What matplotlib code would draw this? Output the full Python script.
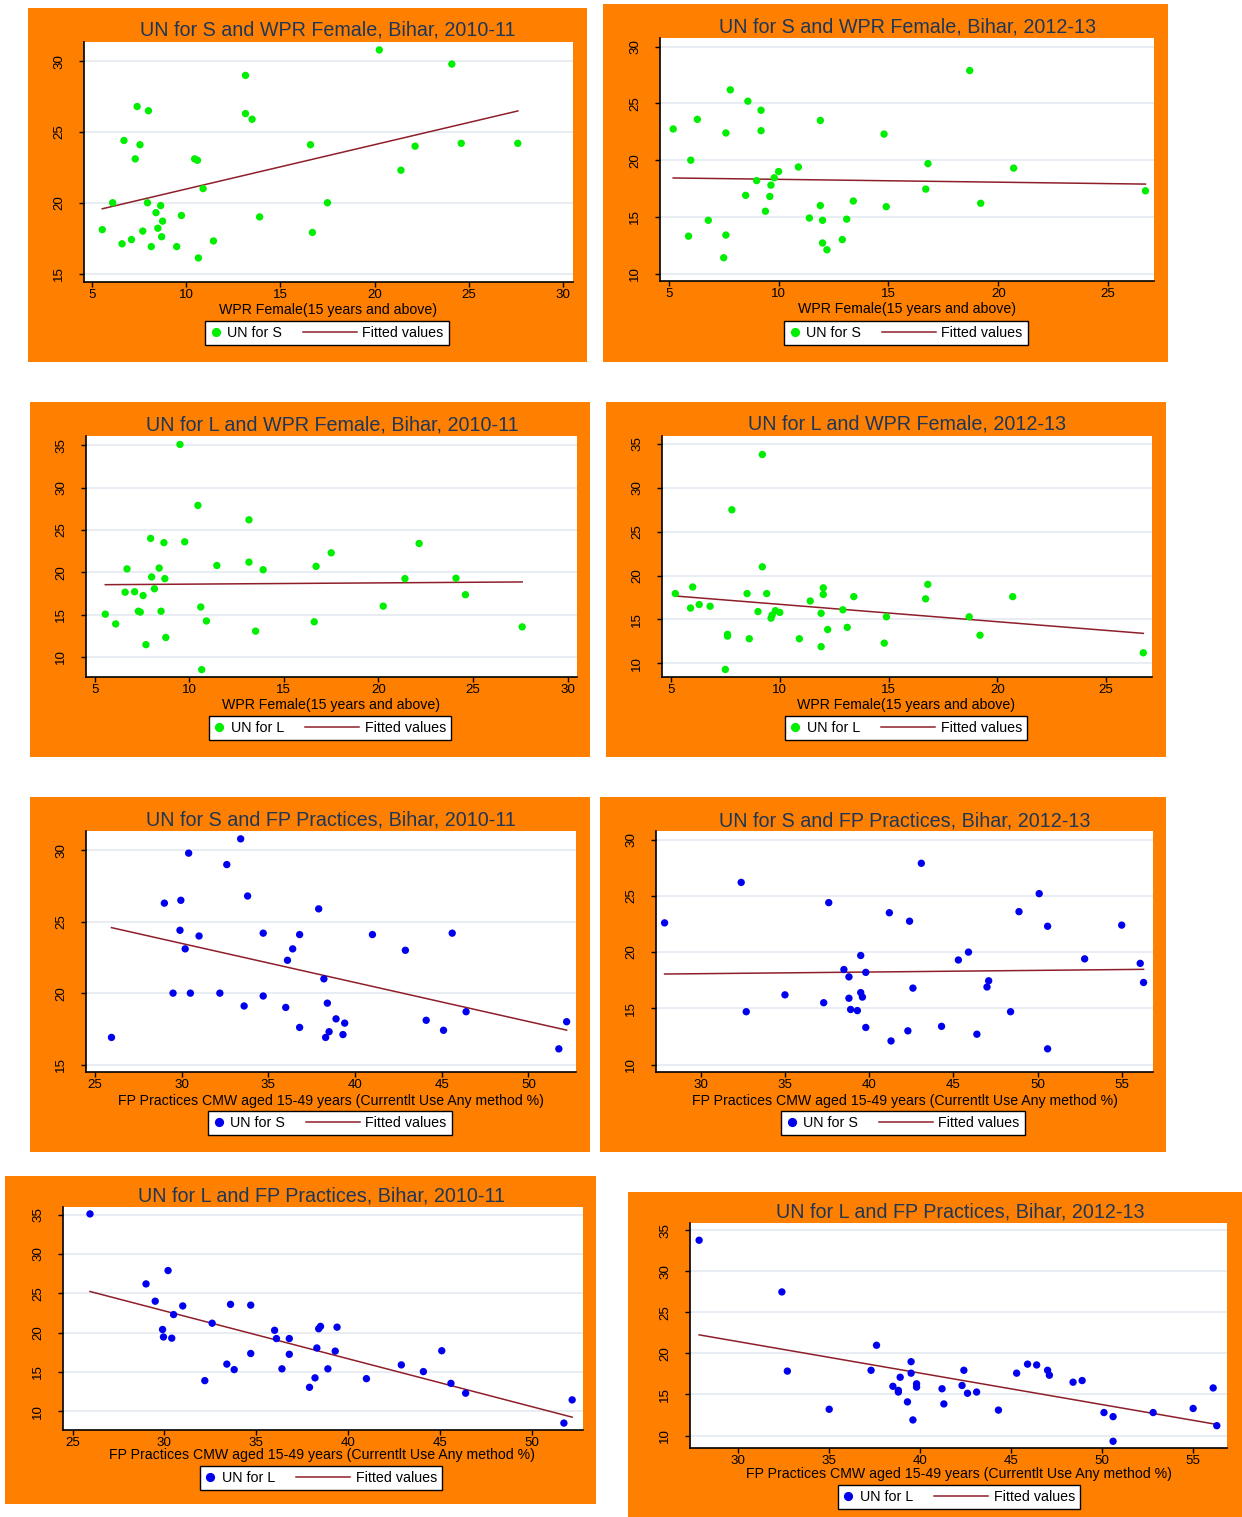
import numpy as np
import matplotlib
matplotlib.use('Agg')
import matplotlib.pyplot as plt
from matplotlib.patches import Rectangle
from matplotlib.lines import Line2D
from matplotlib.legend_handler import HandlerLine2D

plt.rcParams['font.family'] = ['Liberation Sans', 'DejaVu Sans']

W, H = 1242, 1517
ORANGE = '#ff8000'
NAVY = '#1f3658'
FIT = '#8e1f2a'
GRID = '#e3eaf0'
GREEN = '#00ee00'
BLUE = '#0000ee'

# district values, Bihar 2010-11 (same district order in every list)
wpr_f_1011 = [20.25, 24.1, 13.15, 7.4, 8.0, 13.15, 13.5, 6.7, 7.55, 16.6, 22.15, 24.6, 27.6,
              7.3, 10.45, 10.6, 21.4, 10.9, 6.1, 7.95, 17.5, 8.65, 8.4, 9.75, 13.9, 8.75,
              5.55, 8.5, 7.7, 16.7, 8.7, 6.6, 7.1, 11.45, 8.15, 9.5, 10.65]
fp_1011 = [33.4, 30.4, 32.6, 33.8, 29.95, 29.0, 37.9, 29.9, 36.8, 41.0, 31.0, 34.7, 45.6,
           36.4, 30.2, 42.9, 36.1, 38.2, 32.2, 29.5, 30.5, 34.7, 38.4, 33.6, 36.0, 46.4,
           44.1, 38.9, 52.2, 39.4, 36.8, 39.3, 45.1, 38.5, 38.3, 25.95, 51.75]
un_s_1011 = [30.8, 29.8, 29.0, 26.8, 26.5, 26.3, 25.9, 24.4, 24.1, 24.1, 24.0, 24.2, 24.2,
             23.1, 23.1, 23.0, 22.3, 21.0, 20.0, 20.0, 20.0, 19.8, 19.3, 19.1, 19.0, 18.7,
             18.1, 18.2, 18.0, 17.9, 17.6, 17.1, 17.4, 17.3, 16.9, 16.9, 16.1]
un_l_1011 = [16.0, 19.3, 21.2, 15.3, 19.45, 26.2, 13.05, 20.4, 17.25, 14.15, 23.4, 17.35, 13.55,
             15.4, 27.9, 15.9, 19.25, 14.25, 13.9, 24.0, 22.3, 23.5, 20.5, 23.6, 20.3, 12.3,
             15.05, 15.4, 11.45, 20.7, 19.25, 17.65, 17.7, 20.8, 18.05, 35.1, 8.5]

# district values, Bihar 2012-13
wpr_f_1213 = [5.2, 6.3, 7.8, 8.6, 9.2, 7.6, 9.2, 11.9, 14.8, 18.7, 6.0, 10.9, 10.0,
              9.8, 9.0, 9.65, 8.5, 9.6, 9.4, 6.8, 5.9, 7.6, 7.5, 11.9, 11.4, 12.0,
              13.1, 13.4, 12.0, 12.9, 12.2, 14.9, 16.8, 16.7, 20.7, 19.2, 26.7]
fp_1213 = [42.4, 48.9, 32.4, 50.1, 37.6, 55.0, 27.85, 41.2, 50.6, 43.1, 45.9, 52.8, 56.1,
           38.5, 39.8, 38.8, 47.0, 42.6, 37.3, 48.4, 39.8, 44.3, 50.6, 39.6, 38.9, 32.7,
           39.3, 39.5, 46.4, 42.3, 41.3, 38.8, 39.5, 47.1, 45.3, 35.0, 56.3]
un_s_1213 = [22.75, 23.6, 26.2, 25.2, 24.4, 22.4, 22.6, 23.5, 22.3, 27.9, 20.0, 19.4, 19.0,
             18.45, 18.2, 17.8, 16.9, 16.8, 15.5, 14.7, 13.3, 13.4, 11.4, 16.0, 14.9, 14.7,
             14.8, 16.4, 12.7, 13.0, 12.1, 15.9, 19.7, 17.45, 19.3, 16.2, 17.3]
un_l_1213 = [17.95, 16.7, 27.5, 12.8, 21.0, 13.3, 33.8, 15.7, 12.3, 15.3, 18.7, 12.8, 15.8,
             16.0, 15.9, 15.5, 17.95, 15.15, 17.95, 16.5, 16.3, 13.1, 9.3, 11.9, 17.1, 17.85,
             14.1, 17.6, 18.6, 16.1, 13.85, 15.3, 19.0, 17.35, 17.6, 13.2, 11.2]

WPR_LABEL = 'WPR Female(15 years and above)'
FP_LABEL = 'FP Practices CMW aged 15-49 years (Currentlt Use Any method %)'


class LongLineHandler(HandlerLine2D):
    # the key box is kept short for the dot; the line sample reaches back
    # into the column gap so it is as long as a Stata legend key
    def get_xdata(self, legend, xdescent, ydescent, width, height, fontsize):
        xd = np.array([-xdescent - 4.0 * width, -xdescent + width])
        return xd, xd


def rect(l, t, r, b):
    return [l / W, 1 - b / H, (r - l) / W, (b - t) / H]


def draw_panel(fig, x, y, colour, name, title, xlabel, bg, area, xlim, ylim,
               xticks, yticks, title_xy, xlabel_xy, legend_xy):
    l, t, r, b = bg
    fig.add_artist(Rectangle((l / W, 1 - b / H), (r - l) / W, (b - t) / H,
                             transform=fig.transFigure, facecolor=ORANGE,
                             edgecolor='none', zorder=-5))
    ax = fig.add_axes(rect(*area))
    ax.set_facecolor('white')
    x = np.array(x)
    y = np.array(y)
    ax.scatter(x, y, s=28, color=colour, edgecolors='none', zorder=3)
    slope, icpt = np.polyfit(x, y, 1)
    xs = np.array([x.min(), x.max()])
    ax.plot(xs, icpt + slope * xs, color=FIT, lw=1.1, zorder=2)

    ax.set_xlim(*xlim)
    ax.set_ylim(*ylim)
    ax.set_xticks(xticks)
    ax.set_yticks(yticks)
    ax.yaxis.grid(True, color=GRID, lw=1.2)
    ax.set_axisbelow(True)
    for side in ['top', 'right']:
        ax.spines[side].set_visible(False)
    for side in ['left', 'bottom']:
        ax.spines[side].set_linewidth(1.2)
    ax.tick_params(labelsize=9.6, length=3.5, width=1)
    ax.tick_params(axis='x', pad=1.6)
    ax.tick_params(axis='y', pad=10)
    plt.setp(ax.get_yticklabels(), rotation=90, va='center')

    fig.text(title_xy[0] / W, 1 - title_xy[1] / H, title, ha='center', va='center',
             fontsize=14.2, color=NAVY)
    fig.text(xlabel_xy[0] / W, 1 - xlabel_xy[1] / H, xlabel, ha='center', va='center',
             fontsize=10.2, color='black')

    dot = Line2D([], [], marker='o', ls='none', color=colour, ms=5.6)
    line = Line2D([], [], color=FIT, lw=1.1)
    leg = ax.legend([dot, line], [name, 'Fitted values'], ncol=2, loc='center',
                    bbox_to_anchor=(legend_xy[0] / W, 1 - legend_xy[1] / H),
                    bbox_transform=fig.transFigure, fontsize=10.3,
                    frameon=True, fancybox=False, framealpha=1, edgecolor='black',
                    handlelength=0.75, handletextpad=0.4, columnspacing=4.5,
                    borderpad=0.35, handler_map={line: LongLineHandler()})
    leg.get_frame().set_linewidth(1.0)
    return ax


fig = plt.figure(figsize=(W / 100, H / 100), dpi=100)

draw_panel(fig, wpr_f_1011, un_s_1011, GREEN, 'UN for S',
           'UN for S and WPR Female, Bihar, 2010-11', WPR_LABEL,
           (28, 8, 587, 362), (84, 42, 573, 282), (4.58, 30.53), (14.4, 31.36),
           [5, 10, 15, 20, 25, 30], [15, 20, 25, 30], (328, 30), (328, 310), (327, 333))

draw_panel(fig, wpr_f_1213, un_s_1213, GREEN, 'UN for S',
           'UN for S and WPR Female, Bihar, 2012-13', WPR_LABEL,
           (603, 4, 1168, 362), (660, 38, 1154, 281), (4.6, 27.09), (9.35, 30.77),
           [5, 10, 15, 20, 25], [10, 15, 20, 25, 30], (908, 27), (907, 309), (906, 333))

draw_panel(fig, wpr_f_1011, un_l_1011, GREEN, 'UN for L',
           'UN for L and WPR Female, Bihar, 2010-11', WPR_LABEL,
           (30, 402, 590, 757), (86, 436, 577, 677), (4.53, 30.5), (7.63, 36.1),
           [5, 10, 15, 20, 25, 30], [10, 15, 20, 25, 30, 35], (332, 425), (331, 705), (330, 728))

draw_panel(fig, wpr_f_1213, un_l_1213, GREEN, 'UN for L',
           'UN for L and WPR Female, 2012-13', WPR_LABEL,
           (606, 402, 1166, 757), (662, 436, 1152, 677), (4.59, 27.1), (8.44, 35.91),
           [5, 10, 15, 20, 25], [10, 15, 20, 25, 30, 35], (907, 424), (906, 705), (906, 728))

draw_panel(fig, fp_1011, un_s_1011, BLUE, 'UN for S',
           'UN for S and FP Practices, Bihar, 2010-11', FP_LABEL,
           (30, 797, 590, 1152), (86, 831, 576, 1072), (24.48, 52.74), (14.48, 31.35),
           [25, 30, 35, 40, 45, 50], [15, 20, 25, 30], (331, 820), (331, 1101), (330, 1123))

draw_panel(fig, fp_1213, un_s_1213, BLUE, 'UN for S',
           'UN for S and FP Practices, Bihar, 2012-13', FP_LABEL,
           (600, 797, 1166, 1152), (656, 831, 1153, 1072), (27.34, 56.86), (9.34, 30.77),
           [30, 35, 40, 45, 50, 55], [10, 15, 20, 25, 30], (905, 821), (905, 1101), (903, 1123))

draw_panel(fig, fp_1011, un_l_1011, BLUE, 'UN for L',
           'UN for L and FP Practices, Bihar, 2010-11', FP_LABEL,
           (5, 1176, 596, 1504), (63, 1207, 583, 1430), (24.48, 52.79), (7.62, 35.98),
           [25, 30, 35, 40, 45, 50], [10, 15, 20, 25, 30, 35], (322, 1196), (322, 1455), (321, 1478))

draw_panel(fig, fp_1213, un_l_1213, BLUE, 'UN for L',
           'UN for L and FP Practices, Bihar, 2012-13', FP_LABEL,
           (628, 1192, 1242, 1517), (690, 1223, 1227, 1448), (27.35, 56.86), (8.48, 35.9),
           [30, 35, 40, 45, 50, 55], [10, 15, 20, 25, 30, 35], (960, 1212), (959, 1474), (959, 1497))

fig.savefig('out.png', dpi=100, facecolor='white')
